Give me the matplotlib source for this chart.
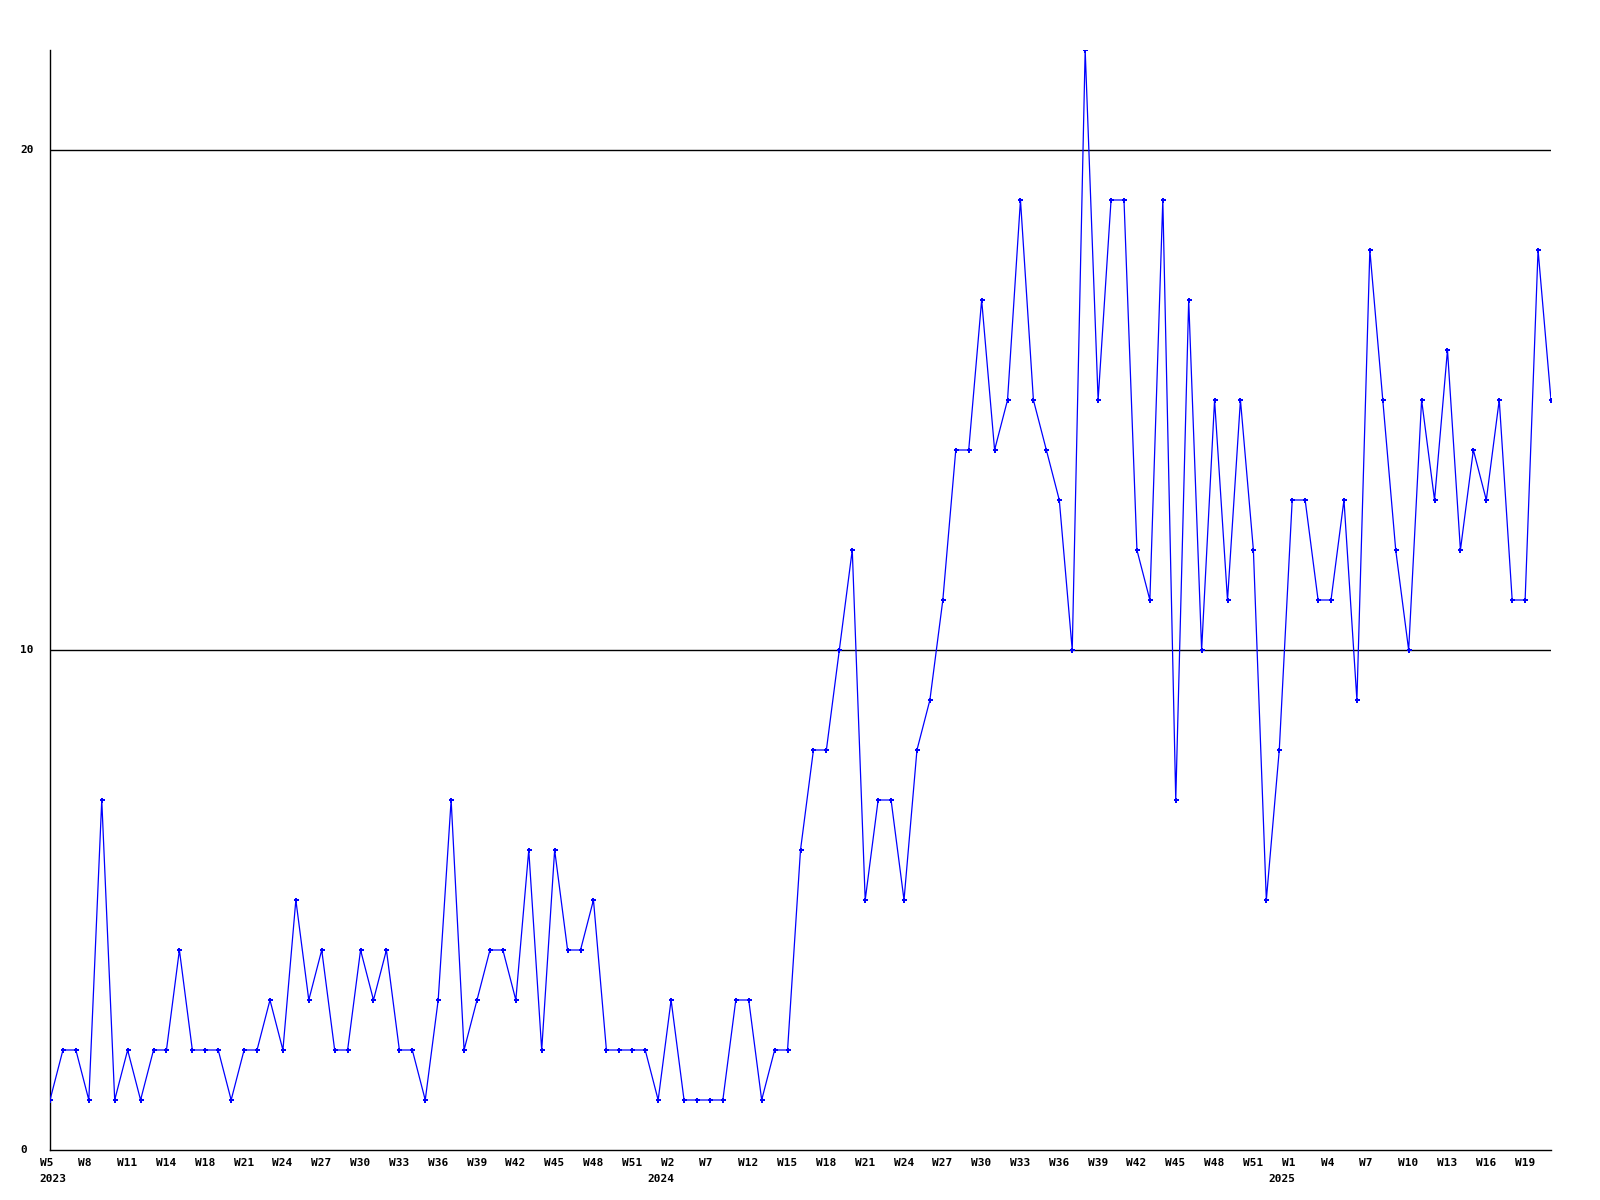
import matplotlib
matplotlib.use("Agg")
import matplotlib.pyplot as plt
import matplotlib.transforms as mtransforms

values = [1, 2, 2, 1, 7, 1, 2, 1, 2, 2, 4, 2, 2, 2, 1, 2, 2, 3, 2, 5,
          3, 4, 2, 2, 4, 3, 4, 2, 2, 1, 3, 7, 2, 3, 4, 4, 3, 6, 2, 6,
          4, 4, 5, 2, 2, 2, 2, 1, 3, 1, 1, 1, 1, 3, 3, 1, 2, 2, 6, 8,
          8, 10, 12, 5, 7, 7, 5, 8, 9, 11, 14, 14, 17, 14, 15, 19, 15, 14, 13, 10,
          22, 15, 19, 19, 12, 11, 19, 7, 17, 10, 15, 11, 15, 12, 5, 8, 13, 13, 11, 11,
          13, 9, 18, 15, 12, 10, 15, 13, 16, 12, 14, 13, 15, 11, 11, 18, 15]

tick_labels = ["W5", "W8", "W11", "W14", "W18", "W21", "W24", "W27", "W30", "W33",
               "W36", "W39", "W42", "W45", "W48", "W51",
               "W2", "W7", "W12", "W15", "W18", "W21", "W24", "W27", "W30", "W33",
               "W36", "W39", "W42", "W45", "W48", "W51",
               "W1", "W4", "W7", "W10", "W13", "W16", "W19"]
year_labels = {0: "2023", 16: "2024", 32: "2025"}
y_ticks = [0, 10, 20]

fig = plt.figure(figsize=(16, 12), dpi=100)
ax = fig.add_axes([50/1600, 1 - 1150/1200, 1501/1600, 1100/1200])

x = list(range(len(values)))
for yv in y_ticks[1:]:
    ax.axhline(yv, color="black", lw=1.0, zorder=1)
ax.plot(x, values, color="#0000ff", lw=0.9, marker="P", markersize=3.6,
        markeredgewidth=0, zorder=3)

ax.set_xlim(0, len(values) - 1)
ax.set_ylim(0, 22)
for s in ["top", "right"]:
    ax.spines[s].set_visible(False)
for s in ["left", "bottom"]:
    ax.spines[s].set_color("black")
    ax.spines[s].set_linewidth(1.0)

font = dict(family="DejaVu Sans Mono", weight="bold", size=8)

ax.set_xticks([])
base = ax.get_xaxis_transform()
off1 = mtransforms.ScaledTranslation(-10.5/100, -16.2/100, fig.dpi_scale_trans)
for i, lab in enumerate(tick_labels):
    xi = 3 * i
    ax.text(xi, 0, lab, transform=base + off1, ha="left", va="baseline",
            clip_on=False, **font)
    if i in year_labels:
        dx = -10.5 if i == 0 else -24
        off2 = mtransforms.ScaledTranslation(dx/100, -31.5/100, fig.dpi_scale_trans)
        ax.text(xi, 0, year_labels[i], transform=base + off2, ha="left",
                va="baseline", clip_on=False, **font)

ax.set_yticks(y_ticks)
ax.set_yticklabels([str(v) for v in y_ticks], ha="left", va="center", **font)
ax.tick_params(axis="y", length=0, pad=21.6)

fig.savefig("out.png", dpi=100, facecolor="white")
